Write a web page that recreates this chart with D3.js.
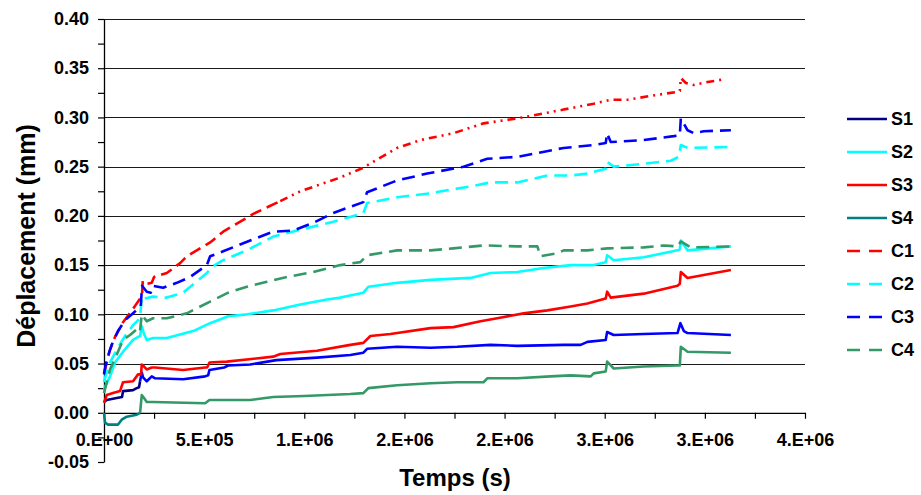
<!DOCTYPE html>
<html>
<head>
<meta charset="utf-8">
<script src="https://cdn.jsdelivr.net/npm/d3@7"></script>
<style>
  html, body { margin: 0; padding: 0; background: #fff; }
  svg { display: block; }
  text { font-family: "Liberation Sans", Arial, sans-serif; font-weight: bold; fill: #000; }
</style>
</head>
<body>
<svg id="chart" width="921" height="495"></svg>
<script>
// ---------- DATA (time in seconds, displacement in mm) ----------
const seriesNames = ["S1", "S2", "S3", "S4", "C1", "C2", "C3", "C4"];

const S1 = [[0,0.011],[13500,0.013],[63500,0.015],[90000,0.016],[95000,0.022],[145000,0.023],[163500,0.025],[175000,0.026],
  [180000,0.032],[188500,0.041],[195000,0.036],[213500,0.032],[238500,0.037],[255000,0.035],[395000,0.034],[505000,0.037],
  [520000,0.038],[526500,0.0435],[600000,0.046],[620000,0.048],[730000,0.049],[860000,0.0535],[1063500,0.056],
  [1230000,0.0587],[1295000,0.061],[1313500,0.065],[1463500,0.067],[1630000,0.066],[1763500,0.067],[1930000,0.069],
  [2063500,0.068],[2295000,0.069],[2380000,0.069],[2413500,0.072],[2505000,0.074],[2512000,0.082],[2545000,0.079],
  [2695000,0.080],[2863500,0.081],[2878000,0.091],[2895000,0.083],[2913500,0.081],[3130000,0.079]];

const S2 = [[0,0.024],[30000,0.037],[55000,0.051],[95000,0.062],[145000,0.074],[180000,0.078],[188500,0.088],[200000,0.080],
  [213500,0.074],[245000,0.076],[313500,0.076],[445000,0.083],[530000,0.091],[595000,0.096],[620000,0.098],[713500,0.100],
  [845000,0.104],[980000,0.110],[1113500,0.115],[1180000,0.117],[1295000,0.122],[1320000,0.128],[1463500,0.132],
  [1630000,0.135],[1830000,0.137],[1930000,0.142],[2063500,0.143],[2195000,0.147],[2330000,0.150],[2445000,0.150],
  [2505000,0.153],[2512000,0.160],[2545000,0.155],[2695000,0.158],[2863500,0.165],[2875000,0.166],[2880000,0.175],
  [2913500,0.165],[3130000,0.169]];

const S3 = [[0,0.010],[13500,0.018],[45000,0.020],[80000,0.022],[95000,0.031],[145000,0.032],[170000,0.039],[185000,0.039],
  [188500,0.049],[200000,0.047],[213500,0.044],[238500,0.046],[255000,0.046],[395000,0.0435],[505000,0.046],[515000,0.046],
  [526500,0.051],[613500,0.052],[845000,0.057],[880000,0.0597],[1063500,0.063],[1230000,0.069],
  [1295000,0.071],[1330000,0.078],[1430000,0.080],[1630000,0.086],[1745000,0.087],[1880000,0.093],[1963500,0.096],
  [2095000,0.101],[2213500,0.104],[2330000,0.108],[2413500,0.111],[2505000,0.116],[2512000,0.123],[2530000,0.117],
  [2695000,0.121],[2863500,0.129],[2875000,0.131],[2880000,0.143],[2913500,0.137],[3130000,0.145]];

const S4 = [[0,0.000],[5000,-0.010],[20000,-0.012],[70000,-0.012],[88500,-0.007],[113500,-0.004],[163500,-0.002],[180000,0.000],
  [188500,0.018],[200000,0.015],[213500,0.011],[245000,0.011],[505000,0.0097],[526500,0.013],[730000,0.013],
  [845000,0.016],[1000000,0.017],[1230000,0.019],[1295000,0.020],[1320000,0.025],[1463500,0.028],
  [1630000,0.030],[1763500,0.031],[1895000,0.031],[1913500,0.035],[2063500,0.035],[2230000,0.037],[2330000,0.038],
  [2430000,0.037],[2445000,0.040],[2505000,0.042],[2512000,0.052],[2545000,0.045],[2695000,0.047],[2863500,0.048],
  [2875000,0.048],[2880000,0.067],[2913500,0.062],[3130000,0.061]];

const C1 = [[0,0.040],[30000,0.064],[55000,0.077],[95000,0.092],[140000,0.104],[180000,0.116],[190000,0.120],[193500,0.134],
  [213500,0.131],[238500,0.132],[250000,0.138],[313500,0.142],[380000,0.152],[413500,0.159],[530000,0.173],[595000,0.184],
  [713500,0.198],[745000,0.202],[880000,0.215],[980000,0.225],[1080000,0.232],[1180000,0.239],[1295000,0.249],
  [1463500,0.269],[1580000,0.277],[1745000,0.284],[1895000,0.294],[2063500,0.299],[2295000,0.308],[2445000,0.314],
  [2530000,0.318],[2613500,0.318],[2763500,0.323],[2863500,0.326],[2875000,0.327],[2880000,0.340],[2905000,0.335],
  [2945000,0.333],[3013500,0.336],[3105000,0.339]];

const C2 = [[0,0.031],[20000,0.047],[63500,0.064],[105000,0.078],[145000,0.089],[180000,0.096],[188500,0.118],[200000,0.116],
  [245000,0.118],[313500,0.117],[395000,0.122],[513500,0.142],[545000,0.149],[595000,0.155],[713500,0.165],[845000,0.179],
  [980000,0.186],[1145000,0.194],[1263500,0.201],[1295000,0.203],[1313500,0.213],[1463500,0.219],[1630000,0.223],
  [1713500,0.226],[1830000,0.230],[1930000,0.234],[2063500,0.234],[2213500,0.241],[2330000,0.241],[2413500,0.243],
  [2505000,0.248],[2512000,0.255],[2545000,0.250],[2695000,0.253],[2830000,0.256],[2870000,0.260],[2880000,0.272],
  [2913500,0.269],[3130000,0.270]];

const C3 = [[0,0.039],[13500,0.054],[38500,0.069],[70000,0.083],[105000,0.094],[145000,0.101],[183500,0.108],[190000,0.129],
  [213500,0.123],[233500,0.122],[245000,0.129],[295000,0.127],[363500,0.132],[430000,0.138],[513500,0.150],[530000,0.159],
  [595000,0.164],[730000,0.175],[845000,0.184],[945000,0.185],[1045000,0.193],[1145000,0.203],[1295000,0.214],
  [1313500,0.224],[1463500,0.236],[1613500,0.243],[1795000,0.250],[1913500,0.258],[2063500,0.260],[2295000,0.269],
  [2445000,0.272],[2505000,0.274],[2512000,0.284],[2530000,0.275],[2695000,0.277],[2845000,0.281],[2875000,0.282],
  [2880000,0.299],[2913500,0.287],[2945000,0.284],[2995000,0.286],[3130000,0.287]];

const C4 = [[0,0.020],[30000,0.044],[63500,0.059],[95000,0.074],[130000,0.079],[170000,0.086],[180000,0.083],[188500,0.100],
  [213500,0.093],[245000,0.096],[313500,0.096],[413500,0.101],[530000,0.113],[620000,0.122],[713500,0.128],[813500,0.133],
  [913500,0.138],[1045000,0.143],[1180000,0.150],[1280000,0.153],[1313500,0.160],[1463500,0.165],[1630000,0.165],
  [1745000,0.167],[1895000,0.170],[2063500,0.169],[2163500,0.169],[2180000,0.159],[2263500,0.162],[2295000,0.165],
  [2413500,0.165],[2513500,0.167],[2695000,0.168],[2795000,0.170],[2863500,0.169],[2880000,0.174],[2930000,0.168],
  [3130000,0.169]];

const seriesData = [S1, S2, S3, S4, C1, C2, C3, C4];

const xTickValues = [0, 250000, 500000, 750000, 1000000, 1250000, 1500000, 1750000, 2000000, 2250000, 2500000, 2750000, 3000000, 3250000, 3500000];
const xTickLabels = ["0.E+00", "", "5.E+05", "", "1.E+06", "", "2.E+06", "", "2.E+06", "", "3.E+06", "", "3.E+06", "", "4.E+06"];
const yTickValues = [-0.05, -0.025, 0, 0.025, 0.05, 0.075, 0.1, 0.125, 0.15, 0.175, 0.2, 0.225, 0.25, 0.275, 0.3, 0.325, 0.35, 0.375, 0.4];
const yTickLabels = ["-0.05", "", "0.00", "", "0.05", "", "0.10", "", "0.15", "", "0.20", "", "0.25", "", "0.30", "", "0.35", "", "0.40"];
const gridValues = [0.05, 0.1, 0.15, 0.2, 0.25, 0.3, 0.35, 0.4];

const xTitle = "Temps (s)";
const yTitle = "Déplacement (mm)";

// ---------- STYLES ----------
const legendColors = ["#000080", "#00FFFF", "#FF0000", "#008080", "#FF0000", "#00FFFF", "#0000FF", "#339966"];
const lineColors   = ["#0000FF", "#00FFFF", "#FF0000", "#339966", "#FF0000", "#00FFFF", "#0000FF", "#339966"];
const earlyColors  = ["#000080", null, null, "#008080", null, null, null, null]; // first segment colour
const earlyUntil = 180000;
const dashes = [null, null, null, null, "12,6", "13,7", "13,7", "13,7"];
const lateDash = { index: 4, from: 880000, dash: "8,5,2,5,2,5" };

// ---------- CHART ----------
const svg = d3.select("#chart");
const x = d3.scaleLinear().domain([0, 3500000]).range([104, 805]);
const y = d3.scaleLinear().domain([-0.05, 0.40]).range([462, 19]);
const FONT = '"Liberation Sans", Arial, sans-serif';

// gridlines
svg.append("g").selectAll("line").data(gridValues).join("line")
  .attr("x1", x(0)).attr("x2", x(3500000))
  .attr("y1", d => Math.round(y(d)) + 0.5).attr("y2", d => Math.round(y(d)) + 0.5)
  .attr("stroke", "#1a1a1a").attr("stroke-width", 1.2);

// y axis
const yAxis = d3.axisLeft(y).tickValues(yTickValues).tickSize(6).tickSizeOuter(0)
  .tickFormat((d, i) => yTickLabels[i]);
const gy = svg.append("g").attr("transform", `translate(${x(0)},0)`).call(yAxis);
gy.select(".domain").attr("stroke", "#000").attr("stroke-width", 1.3);
gy.selectAll(".tick line").attr("stroke", "#000").attr("stroke-width", 1.2);
gy.selectAll(".tick text").attr("x", -15).attr("font-size", 18).style("font-family", FONT).style("font-weight", "bold");

// x axis at y = 0
const xAxis = d3.axisBottom(x).tickValues(xTickValues).tickSize(6).tickSizeOuter(0)
  .tickFormat((d, i) => xTickLabels[i]);
const gx = svg.append("g").attr("transform", `translate(0,${y(0)})`).call(xAxis);
gx.select(".domain").attr("stroke", "#000").attr("stroke-width", 1.3);
gx.selectAll(".tick line").attr("stroke", "#000").attr("stroke-width", 1.2);
gx.selectAll(".tick text").attr("y", 20).attr("dy", "0.71em").attr("font-size", 18)
  .style("font-family", FONT).style("font-weight", "bold");

// lines
const line = d3.line().x(d => x(d[0])).y(d => y(d[1]));
const gl = svg.append("g").attr("fill", "none").attr("stroke-linejoin", "round").attr("stroke-width", 2.6);
seriesData.forEach((data, i) => {
  const segs = [];
  if (earlyColors[i]) {
    const cut = data.findIndex(d => d[0] >= earlyUntil);
    segs.push({ pts: data.slice(0, cut + 1), color: earlyColors[i], dash: dashes[i] });
    segs.push({ pts: data.slice(cut), color: lineColors[i], dash: dashes[i] });
  } else if (lateDash.index === i) {
    const cut = data.findIndex(d => d[0] >= lateDash.from);
    segs.push({ pts: data.slice(0, cut + 1), color: lineColors[i], dash: dashes[i] });
    segs.push({ pts: data.slice(cut), color: lineColors[i], dash: lateDash.dash });
  } else {
    segs.push({ pts: data, color: lineColors[i], dash: dashes[i] });
  }
  segs.forEach(s => {
    gl.append("path").attr("d", line(s.pts)).attr("stroke", s.color)
      .attr("stroke-dasharray", s.dash);
  });
});

// legend
const lg = svg.append("g");
seriesNames.forEach((name, i) => {
  const yy = 119 + i * 33;
  lg.append("line").attr("x1", 847).attr("x2", 887).attr("y1", yy).attr("y2", yy)
    .attr("stroke", legendColors[i]).attr("stroke-width", 2.6)
    .attr("stroke-dasharray", dashes[i] ? "13,9" : null);
  lg.append("text").attr("x", 891).attr("y", yy).attr("dy", "0.36em")
    .attr("font-size", 18).text(name);
});

// axis titles
svg.append("text").attr("x", 455).attr("y", 486).attr("text-anchor", "middle")
  .attr("font-size", 24).text(xTitle);
svg.append("text").attr("transform", "translate(35,236) rotate(-90)").attr("text-anchor", "middle")
  .attr("font-size", 25).text(yTitle);
</script>
</body>
</html>
